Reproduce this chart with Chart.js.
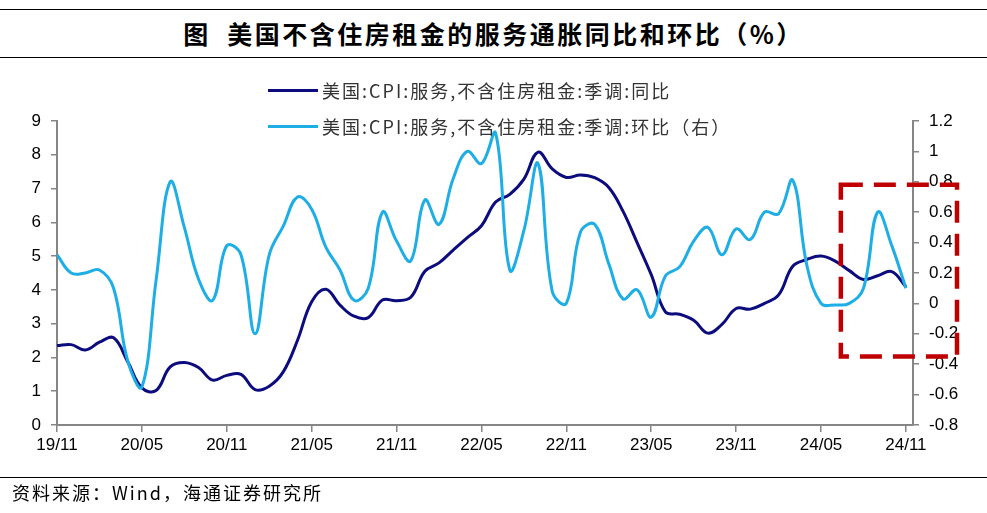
<!DOCTYPE html>
<html>
<head>
<meta charset="utf-8">
<script src="https://cdn.jsdelivr.net/npm/chart.js@4.4.0/dist/chart.umd.min.js"></script>
<style>
    body { margin: 0; background: #fff; }
    #wrap { position: relative; width: 987px; height: 513px; overflow: hidden; background: #fff; }
    #chart-box { position: absolute; left: 0; top: 0; width: 987px; height: 513px; }
    .rule { position: absolute; left: 0; width: 987px; height: 0; border-top: 1.5px solid #000; }
    #title { position: absolute; left: 0; top: 20px; width: 987px; text-align: center;
             font: bold 25px "Noto Sans CJK SC", sans-serif; line-height: 26px; letter-spacing: 2.5px; color: #000; }
    #source { position: absolute; left: 12px; top: 482px; font: 18px "Noto Sans CJK SC", sans-serif;
              line-height: 20px; letter-spacing: 2px; color: #000; }
    .legend-item { position: absolute; left: 268px; height: 24px; }
    .legend-item .swatch { position: absolute; left: 0; top: 10px; width: 50px; height: 3px; }
    .legend-item .text { position: absolute; left: 54px; top: 0; white-space: nowrap;
                         font: 18px "Noto Sans CJK SC", sans-serif; line-height: 22px; letter-spacing: 2px; color: #333; }
</style>
</head>
<body>
<div id="wrap">
    <div class="rule" style="top:9px"></div>
    <div id="title">图&nbsp;&nbsp;美国不含住房租金的服务通胀同比和环比（%）</div>
    <div class="rule" style="top:57px"></div>
    <div id="chart-box"><canvas id="cpi-chart"></canvas></div>
    <div id="legend"></div>
    <div class="rule" style="top:477px"></div>
    <div id="source">资料来源：Wind，海通证券研究所</div>
</div>
<script>
// months 2019/11 .. 2024/11
const months = [
    '19/11', '19/12',
    '20/01', '20/02', '20/03', '20/04', '20/05', '20/06', '20/07', '20/08', '20/09', '20/10', '20/11', '20/12',
    '21/01', '21/02', '21/03', '21/04', '21/05', '21/06', '21/07', '21/08', '21/09', '21/10', '21/11', '21/12',
    '22/01', '22/02', '22/03', '22/04', '22/05', '22/06', '22/07', '22/08', '22/09', '22/10', '22/11', '22/12',
    '23/01', '23/02', '23/03', '23/04', '23/05', '23/06', '23/07', '23/08', '23/09', '23/10', '23/11', '23/12',
    '24/01', '24/02', '24/03', '24/04', '24/05', '24/06', '24/07', '24/08', '24/09', '24/10', '24/11'
];

// tick labels shown on the x axis
const xTickLabels = ['19/11', '20/05', '20/11', '21/05', '21/11', '22/05', '22/11', '23/05', '23/11', '24/05', '24/11'];

// 同比 (left axis, %)
const yoyValues = [
    2.35, 2.38,
    2.22, 2.45, 2.58, 1.87, 1.10, 1.02, 1.72, 1.85, 1.70, 1.33, 1.47, 1.50,
    1.05, 1.15, 1.58, 2.51, 3.65, 4.02, 3.55, 3.22, 3.18, 3.70, 3.68, 3.78,
    4.55, 4.80, 5.18, 5.55, 5.90, 6.60, 6.83, 7.28, 8.08, 7.58, 7.33, 7.40,
    7.32, 7.03, 6.33, 5.40, 4.45, 3.35, 3.28, 3.10, 2.72, 2.98, 3.45, 3.43,
    3.60, 3.85, 4.70, 4.90, 5.00, 4.85, 4.57, 4.31, 4.42, 4.54, 4.09
];

// 环比 (right axis, %)
const momValues = [
    0.32, 0.20,
    0.20, 0.22, 0.10, -0.38, -0.55, 0.15, 0.80, 0.50, 0.16, 0.02, 0.38, 0.32,
    -0.20, 0.32, 0.51, 0.70, 0.62, 0.37, 0.22, 0.02, 0.10, 0.60, 0.41, 0.28,
    0.68, 0.52, 0.82, 1.00, 0.92, 1.12, 0.22, 0.48, 0.92, 0.08, 0.00, 0.47,
    0.52, 0.26, 0.03, 0.09, -0.09, 0.18, 0.24, 0.41, 0.50, 0.32, 0.49, 0.42,
    0.60, 0.59, 0.81, 0.25, 0.00, -0.01, 0.00, 0.10, 0.60, 0.38, 0.10
];

const seriesNames = ['美国:CPI:服务,不含住房租金:季调:同比', '美国:CPI:服务,不含住房租金:季调:环比（右）'];

const darkBlue = '#0c0c7e';
const lightBlue = '#1eaee6';
const axisGrey = '#868686';
const tickFont = { family: '"Liberation Sans", Arial, sans-serif', size: 17 };

// red dashed box round the latest months
const highlightBox = {
    id: 'highlightBox',
    afterDatasetsDraw(chart) {
        const { ctx, chartArea, scales } = chart;
        const left = scales.x.getPixelForValue(55.4);
        const right = chartArea.right + 44;
        const top = scales.y1.getPixelForValue(0.78);
        const bottom = scales.y1.getPixelForValue(-0.35);
        ctx.save();
        ctx.strokeStyle = '#c00000';
        ctx.lineWidth = 4.5;
        ctx.setLineDash([22, 11]);
        ctx.strokeRect(left, top, right - left, bottom - top);
        ctx.restore();
    }
};

function toPoints(values) {
    return values.map((v, i) => ({ x: i, y: v }));
}

const ctx = document.getElementById('cpi-chart').getContext('2d');
const cpiChart = new Chart(ctx, {
    type: 'line',
    data: {
        datasets: [{
            label: seriesNames[0],
            data: toPoints(yoyValues),
            yAxisID: 'y',
            borderColor: darkBlue,
            borderWidth: 3,
            pointRadius: 0,
            tension: 0.4,
            order: 1
        }, {
            label: seriesNames[1],
            data: toPoints(momValues),
            yAxisID: 'y1',
            borderColor: lightBlue,
            borderWidth: 3,
            pointRadius: 0,
            tension: 0.4,
            order: 0
        }]
    },
    options: {
        responsive: true,
        maintainAspectRatio: false,
        animation: false,
        layout: { padding: { top: 121, left: 0, right: 0, bottom: 0 } },
        plugins: {
            legend: { display: false },
            tooltip: { enabled: false }
        },
        scales: {
            x: {
                type: 'linear',
                min: 0,
                max: 60.5,
                afterBuildTicks: scale => {
                    scale.ticks = xTickLabels.map(lbl => ({ value: months.indexOf(lbl) }));
                },
                afterFit: scale => { scale.height = 88; },
                ticks: {
                    color: '#000',
                    font: tickFont,
                    padding: 3,
                    maxRotation: 0,
                    autoSkip: false,
                    callback: value => months[value]
                },
                grid: { drawOnChartArea: false, drawTicks: true, tickLength: 7, color: axisGrey, lineWidth: 1.5 },
                border: { display: true, color: axisGrey, width: 2 }
            },
            y: {
                position: 'left',
                min: 0,
                max: 9,
                afterFit: scale => { scale.width = 57; },
                ticks: { stepSize: 1, color: '#000', font: tickFont, padding: 10 },
                grid: { drawOnChartArea: false, drawTicks: true, tickLength: 6, color: axisGrey, lineWidth: 1.5 },
                border: { display: true, color: axisGrey, width: 2 }
            },
            y1: {
                position: 'right',
                min: -0.8,
                max: 1.2,
                afterFit: scale => { scale.width = 74; },
                ticks: {
                    stepSize: 0.2,
                    color: '#000',
                    font: tickFont,
                    padding: 10,
                    callback: value => String(Number(value.toFixed(1)))
                },
                grid: { drawOnChartArea: false, drawTicks: true, tickLength: 6, color: axisGrey, lineWidth: 1.5 },
                border: { display: true, color: axisGrey, width: 2 }
            }
        }
    },
    plugins: [highlightBox]
});

// legend drawn inside the plot, as in the original
const legendBox = document.getElementById('legend');
const legendTops = [79, 115];
cpiChart.data.datasets.forEach((ds, i) => {
    const item = document.createElement('div');
    item.className = 'legend-item';
    item.style.top = legendTops[i] + 'px';
    item.innerHTML = `<span class="swatch" style="background:${ds.borderColor}"></span><span class="text">${ds.label}</span>`;
    legendBox.appendChild(item);
});
</script>
</body>
</html>
